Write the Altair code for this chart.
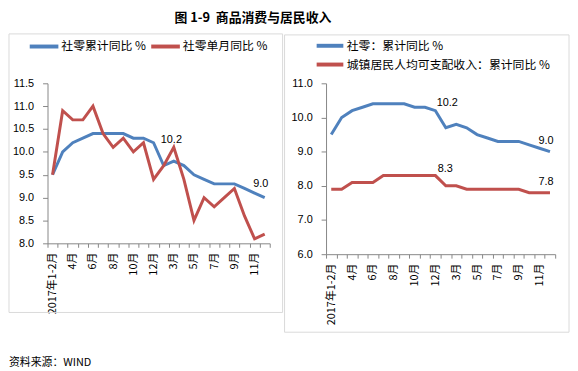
import altair as alt
import pandas as pd

# ---------------- data ----------------
months = ["2017年1-2月", "3月", "4月", "5月", "6月", "7月", "8月", "9月", "10月", "11月", "12月",
          "2018年1-2月", "3月", "4月", "5月", "6月", "7月", "8月", "9月", "10月", "11月", "12月"]
tick_labels = ["2017年1-2月", "", "4月", "", "6月", "", "8月", "", "10月", "", "12月", "",
               "3月", "", "5月", "", "7月", "", "9月", "", "11月", ""]
retail_cum = [9.5, 10.0, 10.2, 10.3, 10.4, 10.4, 10.4, 10.4, 10.3, 10.3, 10.2,
              9.7, 9.8, 9.7, 9.5, 9.4, 9.3, 9.3, 9.3, 9.2, 9.1, 9.0]
retail_month = [9.5, 10.9, 10.7, 10.7, 11.0, 10.4, 10.1, 10.3, 10.0, 10.2, 9.4,
                9.7, 10.1, 9.4, 8.5, 9.0, 8.8, 9.0, 9.2, 8.6, 8.1, 8.2]
income_cum = [7.9, 7.9, 8.1, 8.1, 8.1, 8.3, 8.3, 8.3, 8.3, 8.3, 8.3,
              8.0, 8.0, 7.9, 7.9, 7.9, 7.9, 7.9, 7.9, 7.8, 7.8, 7.8]

left_names = ["社零累计同比 %", "社零单月同比 %"]
right_names = ["社零：累计同比 %", "城镇居民人均可支配收入：累计同比 %"]
left_yticks = [8.0, 8.5, 9.0, 9.5, 10.0, 10.5, 11.0, 11.5]
right_yticks = [6.0, 7.0, 8.0, 9.0, 10.0, 11.0]
title_text = "图 1-9\u00a0\u00a0商品消费与居民收入"
source_text = "资料来源：WIND"

BLUE = "#4F81BD"
RED = "#C0504D"
CJK = "Noto Sans CJK SC"
NUM = "Liberation Sans"
AXIS_GRAY = "#868686"
FRAME_GRAY = "#D9D9D9"


def long_df(names, series):
    rows = []
    for name, vals in zip(names, series):
        for i, v in enumerate(vals):
            rows.append({"idx": i, "month": months[i], "series": name, "value": v})
    return pd.DataFrame(rows)


label_expr = "[" + ",".join("'%s'" % t for t in tick_labels) + "][round(datum.value + 0.5)] || ''"


def x_enc(step):
    return alt.X("idx:Q",
                 scale=alt.Scale(domain=[-0.5, len(months) - 0.5], nice=False, zero=False),
                 axis=alt.Axis(values=[i - 0.5 for i in range(len(months) + 1)],
                               labelExpr=label_expr, labelAngle=270, labelOffset=step / 2,
                               labelOverlap=False, labelFlush=False, labelPadding=5,
                               labelFont=CJK, labelFontSize=11, labelColor="black",
                               tickSize=4, tickColor=AXIS_GRAY, domainColor=AXIS_GRAY,
                               grid=False, title=None))


def y_enc(dom, ticks):
    return alt.Y("value:Q",
                 scale=alt.Scale(domain=dom, nice=False, zero=False),
                 axis=alt.Axis(values=ticks, format=".1f", labelFont=NUM, labelFontSize=11,
                               labelColor="black", labelPadding=9, tickSize=5,
                               labelOverlap=False, labelFlush=False,
                               tickColor=AXIS_GRAY, domainColor=AXIS_GRAY,
                               grid=False, title=None))


def panel(names, series, width, height, dom, ticks, legend, frame, labels, extra=None):
    step = width / len(months)
    df = long_df(names, series)
    lines = alt.Chart(df).mark_line(strokeWidth=3).encode(
        x=x_enc(step),
        y=y_enc(dom, ticks),
        color=alt.Color("series:N",
                        scale=alt.Scale(domain=names, range=[BLUE, RED]),
                        sort=names, legend=legend),
    )
    one = pd.DataFrame({"a": [0]})
    fx0, fx1, fy0, fy1 = frame
    box = alt.Chart(one).mark_rect(filled=False, stroke=FRAME_GRAY, strokeWidth=1).encode(
        x=alt.value(fx0), x2=alt.value(fx1), y=alt.value(fy0), y2=alt.value(fy1))
    layers = [lines, box]
    for (sidx, i, dx, dy) in labels:
        ldf = pd.DataFrame({"idx": [i], "value": [series[sidx][i]]})
        layers.append(alt.Chart(ldf).mark_text(dx=dx, dy=dy, font=NUM, fontSize=11,
                                                align="center", baseline="middle",
                                                color="black").encode(
            x=x_enc(step),
            y=y_enc(dom, ticks),
            text=alt.Text("value:Q", format=".1f")))
    if extra is not None:
        layers.append(extra)
    return alt.layer(*layers).properties(width=width, height=height)


left_legend = alt.Legend(orient="none", legendX=-20, legendY=-54, direction="horizontal",
                         symbolType="stroke", symbolSize=841, symbolStrokeWidth=4,
                         labelFont=CJK, labelFontSize=12, labelColor="black", labelLimit=400,
                         labelOffset=1, columnPadding=-3, padding=0, title=None)
# wide custom line symbol so that the rows stay compact
right_legend = alt.Legend(orient="none", legendX=-5, legendY=-47, direction="vertical",
                          symbolType="M-1.93,0H1.93", symbolSize=196, symbolStrokeWidth=4,
                          symbolFillColor="transparent",
                          labelFont=CJK, labelFontSize=12, labelColor="black", labelLimit=400,
                          labelOffset=8, rowPadding=2, padding=0, title=None)

source = alt.Chart(pd.DataFrame({"a": [0]})).mark_text(
    align="left", baseline="middle", font=CJK, fontSize=11, color="black").encode(
    x=alt.value(-39), y=alt.value(283), text=alt.value(source_text))

left = panel(left_names, [retail_cum, retail_month], 225, 162, [8.0, 11.5], left_yticks,
             left_legend, (-39, 238, -50, 232),
             [(0, 10, 18, -3), (0, 21, -4, -14)], extra=source)
right = panel(right_names, [retail_cum, income_cum], 232, 173, [6.0, 11.0], right_yticks,
              right_legend, (-42, 246, -49, 252),
              [(0, 10, 12, -8), (0, 21, -4, -11), (1, 10, 10, -7), (1, 21, -4, -11)])

chart = alt.hconcat(left, right, spacing=57, bounds="flush").resolve_scale(
    color="independent").properties(
    title=alt.TitleParams(title_text, anchor="start", dx=168, fontSize=13, font=CJK,
                          fontWeight="bold", color="black", offset=5),
    padding={"top": 2, "left": 0, "right": 0, "bottom": 0}, background="white",
).configure_view(stroke=None).configure_axis(labelOverlap=False)

chart.save("out.html", embed_options={"renderer": "svg", "actions": False})
